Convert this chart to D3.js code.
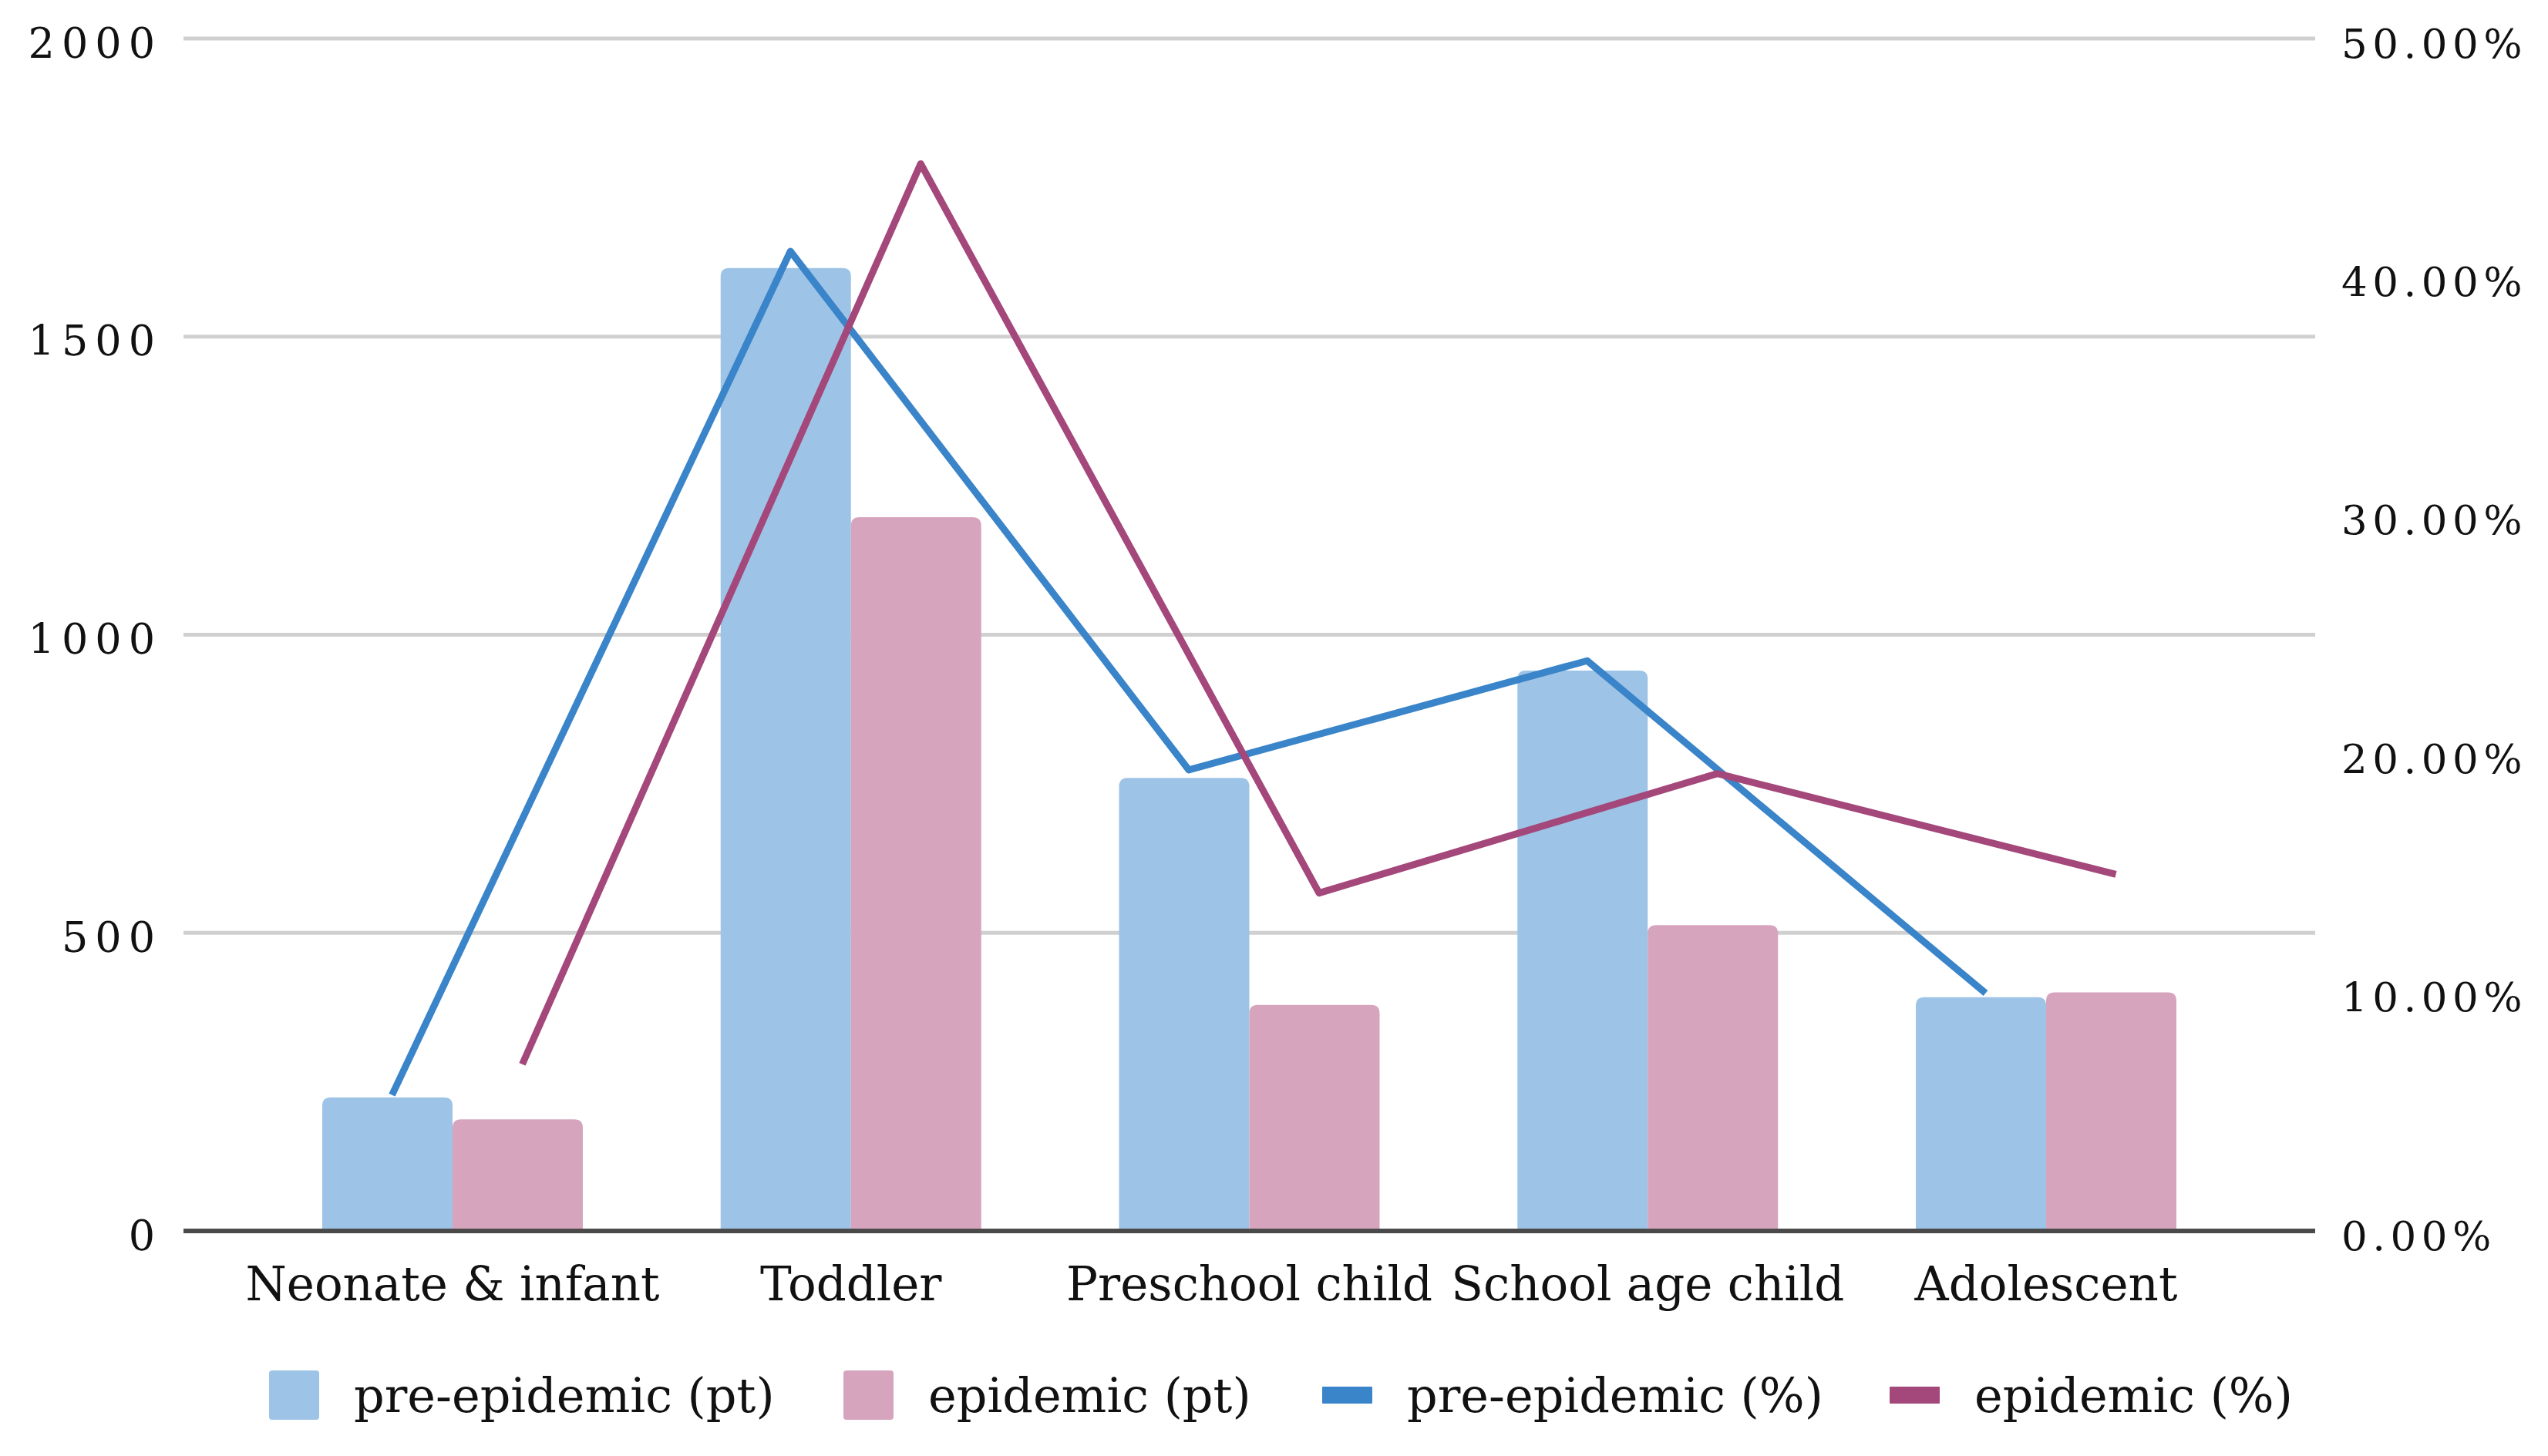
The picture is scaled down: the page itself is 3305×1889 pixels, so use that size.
<!DOCTYPE html>
<html>
<head>
<meta charset="utf-8">
<script src="https://cdn.jsdelivr.net/npm/d3@7"></script>
<style>
  html, body { margin: 0; padding: 0; background: #fff; }
  svg { display: block; }
</style>
</head>
<body>
<svg id="chart"></svg>
<script>
const categories = ["Neonate & infant", "Toddler", "Preschool child", "School age child", "Adolescent"]
const barSeries = ["pre-epidemic (pt)", "epidemic (pt)"]
const lineSeries = ["pre-epidemic (%)", "epidemic (%)"]
const prePatients = [224, 1615, 760, 940, 392]
const epiPatients = [187, 1197, 379, 513, 400]
const prePercent = [0.0570, 0.4108, 0.1933, 0.2391, 0.0997]
const epiPercent = [0.0699, 0.4475, 0.1417, 0.1918, 0.1495]
const leftTicks = [0, 500, 1000, 1500, 2000]
const rightTicks = [0, 0.1, 0.2, 0.3, 0.4, 0.5]

const width = 3305
const height = 1889
const plotLeft = 238
const plotRight = 3003
const plotTop = 50
const plotBottom = 1597
const font = "'DejaVu Serif', serif"

const barColors = ["#9dc3e6", "#d6a4bd"]
const lineColors = ["#3a84c9", "#a4477a"]

const svg = d3.select("#chart")
  .attr("width", width)
  .attr("height", height)

svg.append("rect")
  .attr("width", width)
  .attr("height", height)
  .attr("fill", "#fff")

const x0 = d3.scaleBand()
  .domain(categories)
  .range([328.6, 2912.4])

const groupWidth = x0.bandwidth() * 0.654
const x1 = d3.scaleBand()
  .domain(barSeries)
  .range([(x0.bandwidth() - groupWidth) / 2, (x0.bandwidth() + groupWidth) / 2])

const yLeft = d3.scaleLinear().domain([0, 2000]).range([plotBottom, plotTop])
const yRight = d3.scaleLinear().domain([0, 0.5]).range([plotBottom, plotTop])

// gridlines
svg.append("g")
  .selectAll("line")
  .data(leftTicks.slice(1))
  .join("line")
  .attr("x1", plotLeft)
  .attr("x2", plotRight)
  .attr("y1", d => yLeft(d))
  .attr("y2", d => yLeft(d))
  .attr("stroke", "#d0d0d0")
  .attr("stroke-width", 5)

// left axis labels
const leftAxis = d3.axisLeft(yLeft).tickValues(leftTicks).tickFormat(d3.format("d")).tickSize(0).tickPadding(0)
svg.append("g")
  .attr("transform", `translate(210,0)`)
  .call(leftAxis)
  .call(g => g.select(".domain").remove())
  .selectAll("text")
  .attr("font-family", font)
  .attr("font-size", 54)
  .attr("letter-spacing", 9)
  .attr("fill", "#111")
  .attr("dy", 24)

// right axis labels
const rightAxis = d3.axisRight(yRight).tickValues(rightTicks).tickFormat(d3.format(".2%")).tickSize(0).tickPadding(0)
svg.append("g")
  .attr("transform", `translate(3037,0)`)
  .call(rightAxis)
  .call(g => g.select(".domain").remove())
  .selectAll("text")
  .attr("font-family", font)
  .attr("font-size", 53)
  .attr("letter-spacing", 6.5)
  .attr("fill", "#111")
  .attr("dy", 24)

// bars with rounded tops
const barData = categories.flatMap((c, i) => [
  {cat: c, series: barSeries[0], value: prePatients[i], color: barColors[0]},
  {cat: c, series: barSeries[1], value: epiPatients[i], color: barColors[1]}
])

function roundTopBar(x, y, w, h, r) {
  r = Math.min(r, h, w / 2)
  return `M${x},${y + h}V${y + r}Q${x},${y} ${x + r},${y}H${x + w - r}Q${x + w},${y} ${x + w},${y + r}V${y + h}Z`
}

svg.append("g")
  .selectAll("path")
  .data(barData)
  .join("path")
  .attr("d", d => {
    const bx = x0(d.cat) + x1(d.series)
    const by = yLeft(d.value)
    return roundTopBar(bx, by, x1.bandwidth(), plotBottom - by, 11)
  })
  .attr("fill", d => d.color)

// baseline
svg.append("line")
  .attr("x1", plotLeft)
  .attr("x2", plotRight)
  .attr("y1", plotBottom)
  .attr("y2", plotBottom)
  .attr("stroke", "#4a4a4a")
  .attr("stroke-width", 6)

// category labels
svg.append("g")
  .selectAll("text")
  .data(categories)
  .join("text")
  .attr("x", d => x0(d) + x0.bandwidth() / 2)
  .attr("y", 1687)
  .attr("text-anchor", "middle")
  .attr("font-family", font)
  .attr("font-size", 61)
  .attr("fill", "#111")
  .text(d => d)

// percentage lines, each point over its own bar
const lineData = [
  {series: lineSeries[0], values: prePercent, bar: barSeries[0], color: lineColors[0]},
  {series: lineSeries[1], values: epiPercent, bar: barSeries[1], color: lineColors[1]}
]

svg.append("g")
  .selectAll("path")
  .data(lineData)
  .join("path")
  .attr("d", s => d3.line()
    .x((v, i) => x0(categories[i]) + x1(s.bar) + x1.bandwidth() / 2 + 6)
    .y(v => yRight(v))(s.values))
  .attr("fill", "none")
  .attr("stroke", s => s.color)
  .attr("stroke-width", 9)
  .attr("stroke-linejoin", "round")

// legend
const legendItems = [
  {label: barSeries[0], kind: "bar", color: barColors[0], x: 349},
  {label: barSeries[1], kind: "bar", color: barColors[1], x: 1094},
  {label: lineSeries[0], kind: "line", color: lineColors[0], x: 1715},
  {label: lineSeries[1], kind: "line", color: lineColors[1], x: 2451}
]

const legend = svg.append("g")
  .selectAll("g")
  .data(legendItems)
  .join("g")
  .attr("transform", d => `translate(${d.x},0)`)

legend.append("rect")
  .attr("x", 0)
  .attr("y", d => d.kind === "bar" ? 1778 : 1799)
  .attr("width", 65)
  .attr("height", d => d.kind === "bar" ? 64 : 22)
  .attr("rx", d => d.kind === "bar" ? 4 : 1)
  .attr("fill", d => d.color)

legend.append("text")
  .attr("x", 110)
  .attr("y", 1832)
  .attr("font-family", font)
  .attr("font-size", 62)
  .attr("fill", "#111")
  .text(d => d.label)
</script>
</body>
</html>
